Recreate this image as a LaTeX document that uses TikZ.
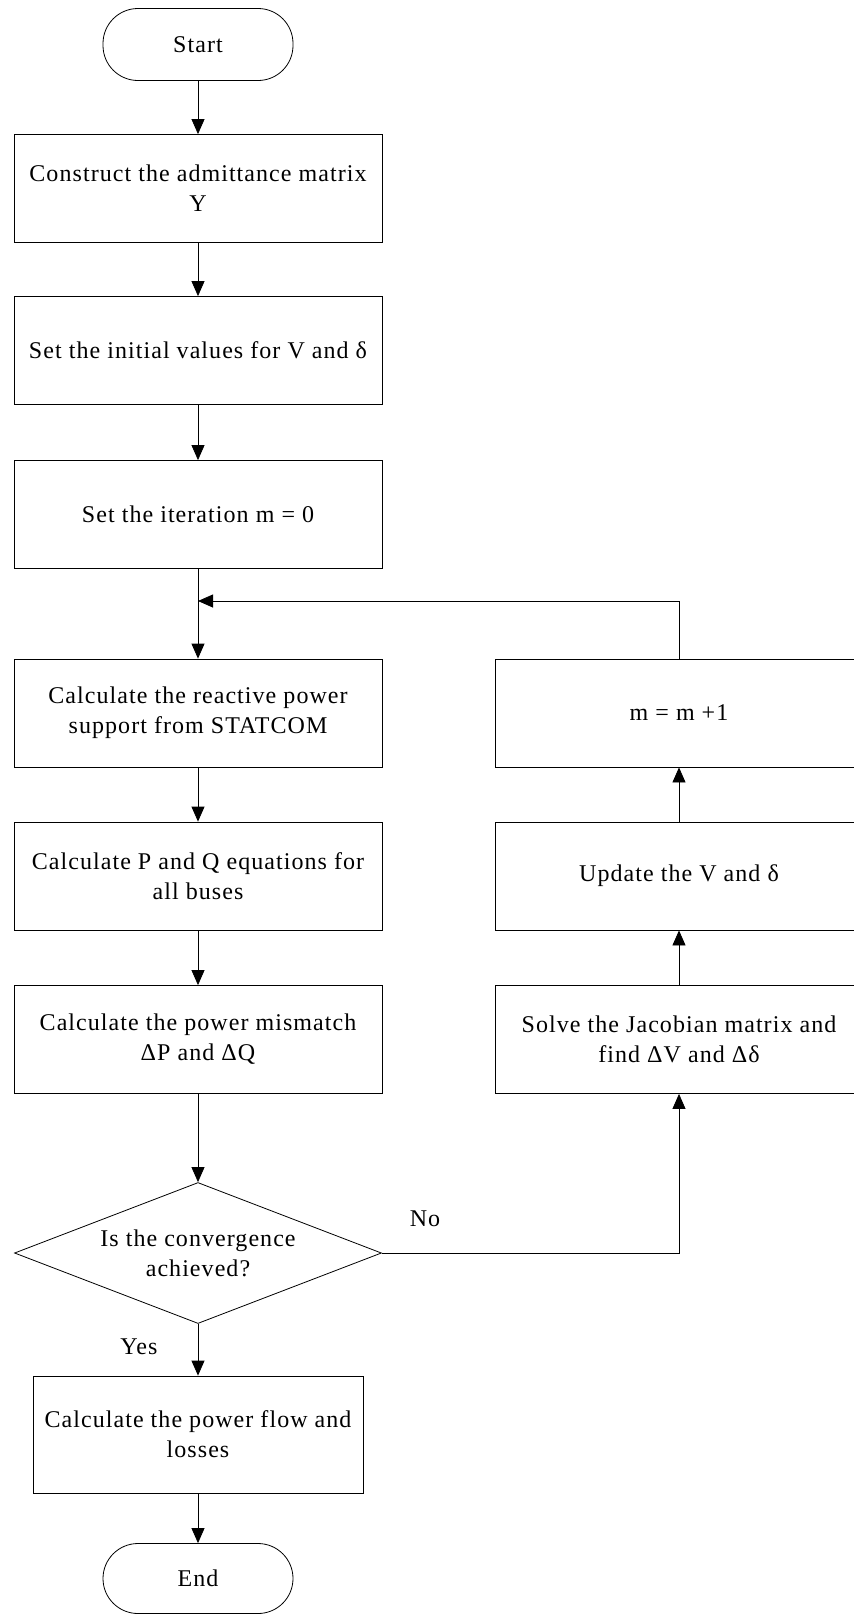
\documentclass[tikz,border=0pt]{standalone}
\usepackage{fontspec}
\setmainfont{Liberation Serif}[LetterSpace=4.4]
\usetikzlibrary{arrows.meta,shapes.geometric,positioning}

\tikzset{
  base/.style={draw,line width=0.8pt,align=center,font=\fontsize{24}{30}\selectfont,inner sep=2pt},
  procbox/.style={base,rectangle,minimum width=368pt,minimum height=108pt},
  termbox/.style={base,rectangle,rounded corners=35pt,minimum width=190pt,minimum height=72pt},
  decbox/.style={base,diamond,aspect=2.6,minimum width=367pt,minimum height=141pt,inner sep=0pt},
  flow/.style={line width=0.8pt,-{Triangle[length=15pt,width=13pt]}},
  lbl/.style={font=\fontsize{24}{30}\selectfont}
}

\begin{document}
\begin{tikzpicture}[x=1pt,y=-1pt]
\useasboundingbox (0,0) rectangle (854,1615);
% left column
\node[termbox] (start) at (198,44.5) {Start};
\node[procbox] (ymat) at (198,188.5) {Construct the admittance matrix\\Y};
\node[procbox] (init) at (198,350.5) {Set the initial values for V and δ};
\node[procbox] (iter) at (198,514.5) {Set the iteration m = 0};
\node[procbox] (statcom) at (198,713) {Calculate the reactive power\\support from STATCOM};
\node[procbox] (pq) at (198,876) {Calculate P and Q equations for\\all buses};
\node[procbox] (mism) at (198,1039.5) {Calculate the power mismatch\\ΔP and ΔQ};
\node[decbox] (conv) at (198,1253) {Is the convergence\\achieved?};
\node[procbox,minimum width=330pt,minimum height=117pt] (flowloss) at (198,1434.5) {Calculate the power flow and\\losses};
\node[termbox,minimum height=70pt] (end) at (198,1578.5) {End};
% right column
\node[procbox] (inc) at (679,713) {m = m +1};
\node[procbox] (upd) at (679,876) {Update the V and δ};
\node[procbox] (solve) at (679,1039.5) {Solve the Jacobian matrix and\\find ΔV and Δδ};
\coordinate (merge) at (198,601);

\draw[flow] (start) -- (ymat);
\draw[flow] (ymat) -- (init);
\draw[flow] (init) -- (iter);
\draw[flow] (iter) -- (statcom);
\draw[flow] (statcom) -- (pq);
\draw[flow] (pq) -- (mism);
\draw[flow] (mism) -- (conv);
\draw[flow] (conv) -- (flowloss);
\draw[flow] (flowloss) -- (end);
\draw[flow] (conv.east) -| (solve.south);
\draw[flow] (solve) -- (upd);
\draw[flow] (upd) -- (inc);
\draw[flow] (inc.north) |- (merge);

\node[lbl] (no) at (425,1219) {No};
\node[lbl] (yes) at (139,1347) {Yes};
\end{tikzpicture}
\end{document}
